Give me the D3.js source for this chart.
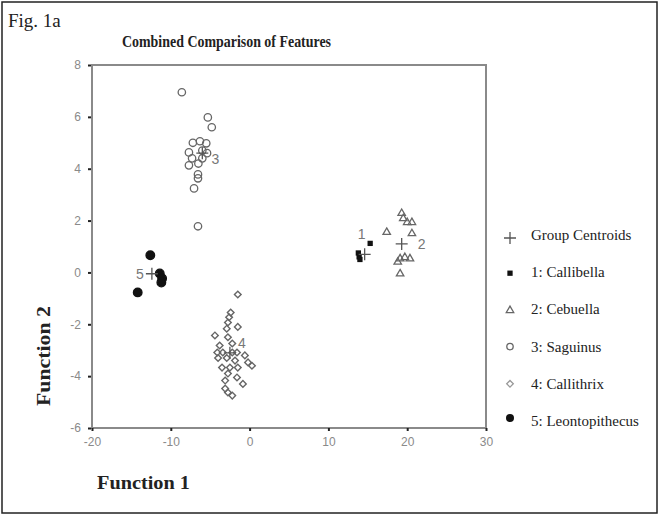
<!DOCTYPE html>
<html><head><meta charset="utf-8">
<script src="https://cdn.jsdelivr.net/npm/d3@7"></script>
<style>body{margin:0;background:#fff}svg{display:block}</style>
</head><body>
<script>
// ---- data ----
const xTicks = [-20, -10, 0, 10, 20, 30];
const yTicks = [-6, -4, -2, 0, 2, 4, 6, 8];
const callibella = [[15.3,1.12],[13.8,0.75],[13.9,0.6],[14.0,0.5]];
const cebuella = [[19.3,2.28],[19.5,2.08],[20.0,1.93],[20.6,1.93],[17.4,1.55],[20.6,1.5],[19.1,0.53],[19.7,0.58],[20.35,0.53],[18.8,0.4],[19.1,-0.05]];
const saguinus = [[-8.6,6.95],[-5.3,5.98],[-4.8,5.6],[-6.3,5.06],[-7.2,5.0],[-5.5,4.98],[-7.7,4.63],[-6.0,4.7],[-5.4,4.6],[-7.3,4.4],[-6.0,4.4],[-7.7,4.13],[-6.5,4.2],[-6.55,3.78],[-6.55,3.63],[-7.05,3.24],[-6.55,1.78]];
const callithrix = [[-1.5,-0.85],[-2.4,-1.55],[-2.6,-1.73],[-2.75,-1.93],[-1.5,-2.1],[-2.9,-2.17],[-4.4,-2.43],[-2.75,-2.5],[-3.8,-2.82],[-2.2,-2.74],[-4.1,-3.09],[-3.4,-3.09],[-2.2,-3.09],[-1.6,-3.09],[-0.6,-3.2],[-4.0,-3.3],[-2.9,-3.3],[-1.85,-3.4],[-0.2,-3.47],[0.3,-3.6],[-3.5,-3.67],[-2.5,-3.67],[-1.5,-3.67],[-2.75,-3.9],[-1.6,-4.05],[-0.85,-4.3],[-3.1,-4.17],[-3.1,-4.48],[-2.75,-4.63],[-2.2,-4.75]];
const leontopithecus = [[-12.6,0.66],[-11.4,-0.04],[-11.1,-0.23],[-11.2,-0.39],[-14.2,-0.77]];
const centroidLabels = ["1","2","3","4","5"];
const centroids = [[14.6,0.7],[19.3,1.1],[-6.0,4.6],[-2.5,-3.1],[-12.4,-0.05]];
const legendLabels = ["Group Centroids","1: Callibella","2: Cebuella","3: Saguinus","4: Callithrix","5: Leontopithecus"];

// ---- drawing ----
const W = 661, H = 520;
const svg = d3.select("body").append("svg").attr("width", W).attr("height", H);
const serif = "'Liberation Serif', 'Times New Roman', serif";
const sans = "'Liberation Sans', Arial, sans-serif";

svg.append("rect").attr("x",2).attr("y",2).attr("width",655).attr("height",511)
  .attr("fill","none").attr("stroke","#222").attr("stroke-width",1.5);

svg.append("text").attr("x",8).attr("y",27).attr("font-family",serif).attr("font-size",19)
  .attr("fill","#222").text("Fig. 1a");
svg.append("text").attr("x",122).attr("y",47).attr("font-family",serif)
  .attr("font-size",16.5).attr("font-weight","bold").attr("fill","#222")
  .attr("textLength",209).attr("lengthAdjust","spacingAndGlyphs").text("Combined Comparison of Features");

const x = d3.scaleLinear().domain([-20,30]).range([92,486]);
const y = d3.scaleLinear().domain([-6,8]).range([428,65]);

// box
svg.append("rect").attr("x",x(-20)).attr("y",y(8)).attr("width",x(30)-x(-20)).attr("height",y(-6)-y(8))
  .attr("fill","none").attr("stroke","#8a8a8a").attr("stroke-width",2);

const fmt = d => String(d);
const gx = svg.append("g").attr("transform",`translate(0,${y(-6)})`)
  .call(d3.axisBottom(x).tickValues(xTicks).tickSize(3).tickPadding(6).tickFormat(fmt));
const gy = svg.append("g").attr("transform",`translate(${x(-20)},0)`)
  .call(d3.axisLeft(y).tickValues(yTicks).tickSize(3).tickPadding(8).tickFormat(fmt));
[gx, gy].forEach(g => {
  g.select(".domain").remove();
  g.selectAll(".tick line").attr("stroke","#222").attr("stroke-width",2);
  g.selectAll(".tick text").attr("font-family",sans).attr("font-size",12).attr("fill","#8a8a8a");
});
gy.selectAll(".tick line").attr("x1",-1).attr("x2",-4);

const plot = svg.append("g");
const grey = "#666";
function circ(sel, data, r, fill, stroke){
  sel.selectAll(null).data(data).enter().append("circle")
    .attr("cx",d=>x(d[0])).attr("cy",d=>y(d[1])).attr("r",r)
    .attr("fill",fill).attr("stroke",stroke).attr("stroke-width",1.3);
}
const tri = d3.symbol().type(d3.symbolTriangle).size(24);
const dia = d3.symbol().type(d3.symbolSquare).size(22);
const sq = d3.symbol().type(d3.symbolSquare).size(28);

circ(plot, saguinus, 3.7, "none", grey);
plot.selectAll(null).data(callithrix).enter().append("path").attr("d",dia)
  .attr("transform",d=>`translate(${x(d[0])},${y(d[1])}) rotate(45)`).attr("fill","none").attr("stroke",grey).attr("stroke-width",1.4);
plot.selectAll(null).data(cebuella).enter().append("path").attr("d",tri)
  .attr("transform",d=>`translate(${x(d[0])},${y(d[1])})`).attr("fill","none").attr("stroke",grey).attr("stroke-width",1.3);
plot.selectAll(null).data(callibella).enter().append("path").attr("d",sq)
  .attr("transform",d=>`translate(${x(d[0])},${y(d[1])})`).attr("fill","#111");
circ(plot, leontopithecus, 4.3, "#111", "#111");

// centroids
const lblOff = [[-3,-20],[20,0],[13,6],[12,-10],[-12,0]];
centroids.forEach((c,i)=>{
  const cx = x(c[0]), cy = y(c[1]);
  plot.append("path").attr("d",`M${cx-6},${cy}H${cx+6}M${cx},${cy-6}V${cy+6}`)
    .attr("stroke","#555").attr("stroke-width",1.3);
  plot.append("text").attr("x",cx+lblOff[i][0]).attr("y",cy+lblOff[i][1]).attr("text-anchor","middle")
    .attr("dominant-baseline","central")
    .attr("font-family",sans).attr("font-size",14).attr("fill","#777").text(centroidLabels[i]);
});

// axis titles
svg.append("text").attr("x",97).attr("y",489).attr("font-family",serif).attr("font-size",19)
  .attr("font-weight","bold").attr("fill","#222").attr("textLength",93).attr("lengthAdjust","spacingAndGlyphs").text("Function 1");
svg.append("text").attr("transform","translate(50,356) rotate(-90)").attr("text-anchor","middle")
  .attr("font-family",serif).attr("font-size",19).attr("font-weight","bold").attr("fill","#222")
  .attr("textLength",100).attr("lengthAdjust","spacingAndGlyphs").text("Function 2");

// legend
const ly = d3.scalePoint().domain(legendLabels).range([235,421]);
const lg = svg.append("g");
legendLabels.forEach((l,i)=>{
  const yy = ly(l), mx = 510;
  if(i===0) lg.append("path").attr("d",`M${mx-6},${yy+3}H${mx+6}M${mx},${yy-3}V${yy+9}`).attr("stroke","#555").attr("stroke-width",1.3);
  else if(i===1) lg.append("path").attr("d",sq).attr("transform",`translate(${mx},${yy+1})`).attr("fill","#111");
  else if(i===2) lg.append("path").attr("d",tri).attr("transform",`translate(${mx},${yy+1})`).attr("fill","none").attr("stroke",grey).attr("stroke-width",1.3);
  else if(i===3) lg.append("circle").attr("cx",mx).attr("cy",yy).attr("r",3.2).attr("fill","none").attr("stroke",grey).attr("stroke-width",1.3);
  else if(i===4) lg.append("path").attr("d",dia).attr("transform",`translate(${mx},${yy}) rotate(45)`).attr("fill","none").attr("stroke","#999").attr("stroke-width",1.3);
  else lg.append("circle").attr("cx",mx).attr("cy",yy-3).attr("r",4).attr("fill","#111");
  lg.append("text").attr("x",531).attr("y",yy+5).attr("font-family",serif).attr("font-size",15)
    .attr("fill","#222").text(l);
});
</script>
</body></html>
